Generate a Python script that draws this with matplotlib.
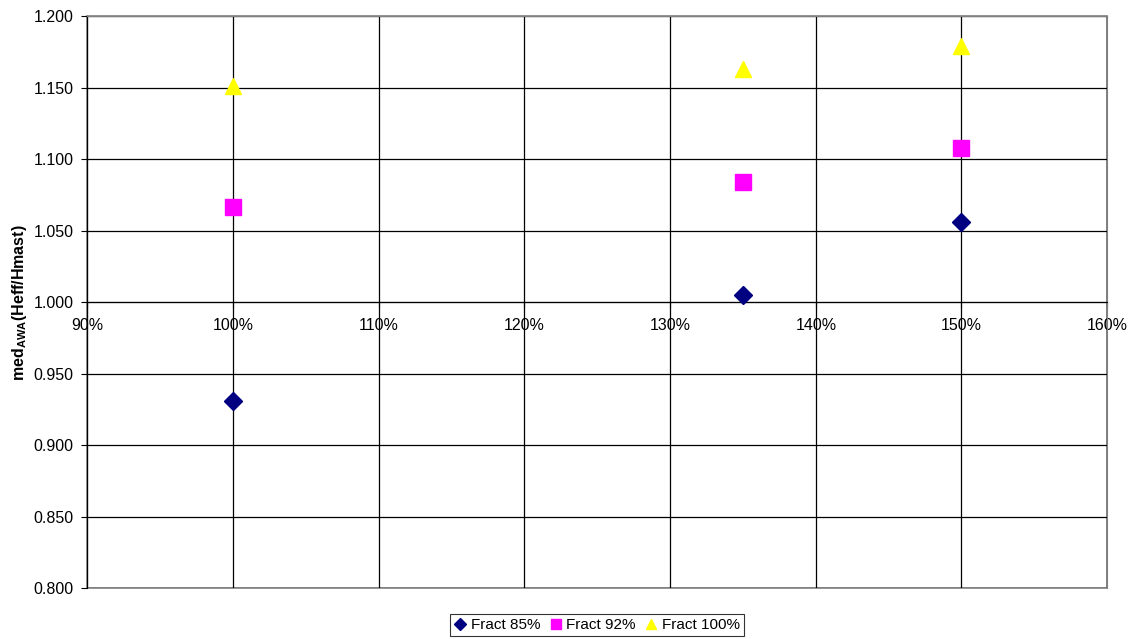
import matplotlib
matplotlib.use("Agg")
import matplotlib.pyplot as plt
from matplotlib.patches import Rectangle
from matplotlib.ticker import MultipleLocator, FuncFormatter

plt.rcParams['font.family'] = ['Liberation Sans', 'DejaVu Sans']
plt.rcParams['mathtext.fontset'] = 'custom'
plt.rcParams['mathtext.rm'] = 'Liberation Sans'
plt.rcParams['mathtext.bf'] = 'Liberation Sans:bold'

x_vals = [100, 135, 150]
fract85 = [0.931, 1.005, 1.056]
fract92 = [1.067, 1.084, 1.108]
fract100 = [1.151, 1.163, 1.179]
series_labels = ['Fract 85%', 'Fract 92%', 'Fract 100%']

fig = plt.figure(figsize=(11.33, 6.39), dpi=100)
ax = fig.add_axes([0.0772, 0.0798, 0.9, 0.8944])

ax.set_xlim(90, 160)
ax.set_ylim(0.8, 1.2)
ax.xaxis.set_major_locator(MultipleLocator(10))
ax.yaxis.set_major_locator(MultipleLocator(0.05))
ax.xaxis.set_major_formatter(FuncFormatter(lambda v, p: f"{v:.0f}%"))
ax.yaxis.set_major_formatter(FuncFormatter(lambda v, p: f"{v:.3f}"))

ax.grid(True, color='black', linewidth=0.9)
ax.set_axisbelow(True)

for s in ['top', 'right']:
    ax.spines[s].set_color('#808080')
ax.spines['left'].set_color('black')
ax.spines['bottom'].set_position(('data', 1.0))
ax.spines['bottom'].set_color('black')
ax.add_patch(Rectangle((0, 0), 1, 1, transform=ax.transAxes, fill=False,
                       edgecolor='#808080', linewidth=1.2, zorder=0.5, clip_on=False))

ax.tick_params(axis='both', labelsize=11.5, colors='black', length=4, direction='out')
ax.tick_params(axis='x', pad=7)
ax.tick_params(axis='y', pad=6)

ax.plot(x_vals, fract85, linestyle='none', marker='D', markersize=9,
        color='#000080', label=series_labels[0], zorder=3)
ax.plot(x_vals, fract92, linestyle='none', marker='s', markersize=11,
        color='#FF00FF', label=series_labels[1], zorder=3)
ax.plot(x_vals, fract100, linestyle='none', marker='^', markersize=12,
        color='#FFFF00', label=series_labels[2], zorder=3)

ax.set_ylabel(r'med$_{\mathbf{AWA}}$(Heff/Hmast)', fontsize=11.5, fontweight='bold', labelpad=3)

leg = fig.legend(loc='center', bbox_to_anchor=(597/1133, 1 - 625/639), ncol=3,
                 fontsize=11, frameon=True, fancybox=False, edgecolor='black',
                 handlelength=0.8, handletextpad=0.3, columnspacing=0.6,
                 borderpad=0.25, markerscale=0.65)
leg.get_frame().set_linewidth(0.8)

fig.savefig('out.png', dpi=100)
